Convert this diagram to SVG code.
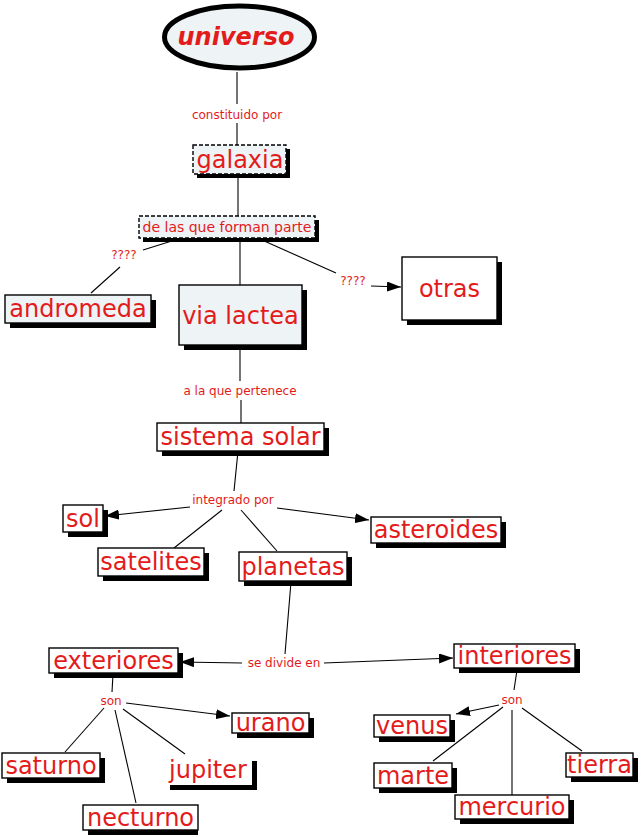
<svg xmlns="http://www.w3.org/2000/svg" width="644" height="837" viewBox="0 0 644 837">
<style>
.box{fill:#fff;stroke:#000;stroke-width:1.4}
.lb{fill:#eef3f5}
.dash{stroke-dasharray:4 2}
.sh{fill:#000}
.t{font-family:"DejaVu Sans",Verdana,sans-serif;font-size:24px;fill:#e31b1b;text-anchor:middle}
.lab{font-family:"DejaVu Sans",Verdana,sans-serif;font-size:12px;fill:#e31b1b;text-anchor:middle}
.c line{stroke:#000;stroke-width:1.1}
</style>
<defs>
<marker id="ar" viewBox="0 0 14 10" refX="14" refY="5" markerWidth="14" markerHeight="10" markerUnits="userSpaceOnUse" orient="auto">
<path d="M0,0 L14,5 L0,10 Z" fill="#000"/>
</marker>
</defs>
<g class="c" id="connectors">
<line x1="237" y1="72" x2="237" y2="104"/>
<line x1="237" y1="123" x2="237" y2="145"/>
<text class="lab" x="237" y="119">constituido por</text>
<line x1="238" y1="176" x2="238" y2="216"/>
<line x1="175" y1="240" x2="143" y2="250"/>
<line x1="120" y1="267" x2="91" y2="293"/>
<text class="lab" x="124" y="259">????</text>
<line x1="240" y1="240" x2="240" y2="285"/>
<line x1="262" y1="240" x2="336" y2="273"/>
<line x1="371" y1="286" x2="401" y2="287" marker-end="url(#ar)"/>
<text class="lab" x="353" y="285">????</text>
<line x1="240" y1="347" x2="240" y2="381"/>
<line x1="241" y1="400" x2="241" y2="423"/>
<text class="lab" x="240" y="395">a la que pertenece</text>
<line x1="238" y1="451" x2="234" y2="491"/>
<text class="lab" x="233" y="504">integrado por</text>
<line x1="190" y1="507" x2="105" y2="516" marker-end="url(#ar)"/>
<line x1="277" y1="508" x2="369" y2="520" marker-end="url(#ar)"/>
<line x1="222" y1="510" x2="174" y2="548"/>
<line x1="241" y1="510" x2="277" y2="551"/>
<line x1="291" y1="582" x2="285" y2="654"/>
<text class="lab" x="284" y="667">se divide en</text>
<line x1="242" y1="663" x2="180" y2="662" marker-end="url(#ar)"/>
<line x1="324" y1="663" x2="453" y2="658" marker-end="url(#ar)"/>
<line x1="113" y1="674" x2="112" y2="692"/>
<text class="lab" x="111" y="705">son</text>
<line x1="126" y1="703" x2="230" y2="716" marker-end="url(#ar)"/>
<line x1="104" y1="708" x2="65" y2="752"/>
<line x1="115" y1="710" x2="136" y2="803"/>
<line x1="123" y1="709" x2="185" y2="754"/>
<line x1="517" y1="670" x2="514" y2="690"/>
<text class="lab" x="512" y="704">son</text>
<line x1="499" y1="705" x2="456" y2="714" marker-end="url(#ar)"/>
<line x1="503" y1="707" x2="433" y2="761"/>
<line x1="512" y1="710" x2="512" y2="795"/>
<line x1="522" y1="708" x2="582" y2="751"/>
</g>
<g id="universo">
<ellipse cx="239.5" cy="37" rx="75" ry="31" fill="#eef3f5" stroke="#000" stroke-width="5"/>
<text class="t" x="236" y="45" style="font-weight:bold;font-style:italic">universo</text>
</g>
<g id="galaxia">
<rect class="sh" x="197" y="149" width="93" height="29"/>
<rect class="box lb dash" x="193" y="145" width="93" height="29"/>
<text class="t" x="240" y="168">galaxia</text>
</g>
<g id="de-las-que-forman-parte">
<rect class="sh" x="143" y="220" width="176" height="22"/>
<rect class="box lb dash" x="139" y="216" width="176" height="22"/>
<text class="t" x="227" y="232" style="font-size:14px">de las que forman parte</text>
</g>
<g id="andromeda">
<rect class="sh" x="10" y="300" width="146" height="28"/>
<rect class="box lb" x="5" y="295" width="146" height="28"/>
<text class="t" x="78" y="317">andromeda</text>
</g>
<g id="via-lactea">
<rect class="sh" x="184" y="290" width="123" height="60"/>
<rect class="box lb" x="179" y="285" width="123" height="60"/>
<text class="t" x="240.5" y="324">via lactea</text>
</g>
<g id="otras">
<rect class="sh" x="407" y="262" width="95" height="63"/>
<rect class="box" x="402" y="257" width="95" height="63"/>
<text class="t" x="449.5" y="297">otras</text>
</g>
<g id="sistema-solar">
<rect class="sh" x="162" y="428" width="167" height="28"/>
<rect class="box" x="157" y="423" width="167" height="28"/>
<text class="t" x="240.5" y="445">sistema solar</text>
</g>
<g id="sol">
<rect class="sh" x="68" y="510" width="40" height="27"/>
<rect class="box" x="63" y="505" width="40" height="27"/>
<text class="t" x="83" y="527">sol</text>
</g>
<g id="satelites">
<rect class="sh" x="103" y="553" width="106" height="28"/>
<rect class="box" x="98" y="548" width="106" height="28"/>
<text class="t" x="151" y="570">satelites</text>
</g>
<g id="planetas">
<rect class="sh" x="244" y="557" width="108" height="29"/>
<rect class="box" x="239" y="552" width="108" height="29"/>
<text class="t" x="293" y="575">planetas</text>
</g>
<g id="asteroides">
<rect class="sh" x="376" y="522" width="130" height="26"/>
<rect class="box" x="371" y="517" width="130" height="26"/>
<text class="t" x="436" y="538">asteroides</text>
</g>
<g id="exteriores">
<rect class="sh" x="54" y="653" width="129" height="25"/>
<rect class="box" x="49" y="648" width="129" height="25"/>
<text class="t" x="113.5" y="669">exteriores</text>
</g>
<g id="interiores">
<rect class="sh" x="459" y="649" width="121" height="24"/>
<rect class="box" x="454" y="644" width="121" height="24"/>
<text class="t" x="514.5" y="664">interiores</text>
</g>
<g id="urano">
<rect class="sh" x="237" y="718" width="77" height="20"/>
<rect class="box" x="232" y="713" width="77" height="20"/>
<text class="t" x="270.5" y="731">urano</text>
</g>
<g id="saturno">
<rect class="sh" x="7" y="758" width="98" height="25"/>
<rect class="box" x="2" y="753" width="98" height="25"/>
<text class="t" x="51" y="774">saturno</text>
</g>
<g id="jupiter">
<rect class="sh" x="170" y="761" width="87" height="29"/>
<rect x="165" y="756" width="87" height="29" fill="#fff"/>
<text class="t" x="208" y="778">jupiter</text>
</g>
<g id="necturno">
<rect class="sh" x="88" y="810" width="110" height="25"/>
<rect class="box" x="83" y="805" width="115" height="25"/>
<text class="t" x="140.5" y="826">necturno</text>
</g>
<g id="venus">
<rect class="sh" x="379" y="720" width="76" height="22"/>
<rect class="box" x="374" y="715" width="76" height="22"/>
<text class="t" x="412" y="734">venus</text>
</g>
<g id="marte">
<rect class="sh" x="379" y="768" width="78" height="25"/>
<rect class="box" x="374" y="763" width="78" height="25"/>
<text class="t" x="413" y="784">marte</text>
</g>
<g id="mercurio">
<rect class="sh" x="460" y="800" width="114" height="24"/>
<rect class="box" x="455" y="795" width="114" height="24"/>
<text class="t" x="512" y="815">mercurio</text>
</g>
<g id="tierra">
<rect class="sh" x="571" y="758" width="67" height="24"/>
<rect class="box" x="566" y="753" width="67" height="24"/>
<text class="t" x="599.5" y="773">tierra</text>
</g>
</svg>
